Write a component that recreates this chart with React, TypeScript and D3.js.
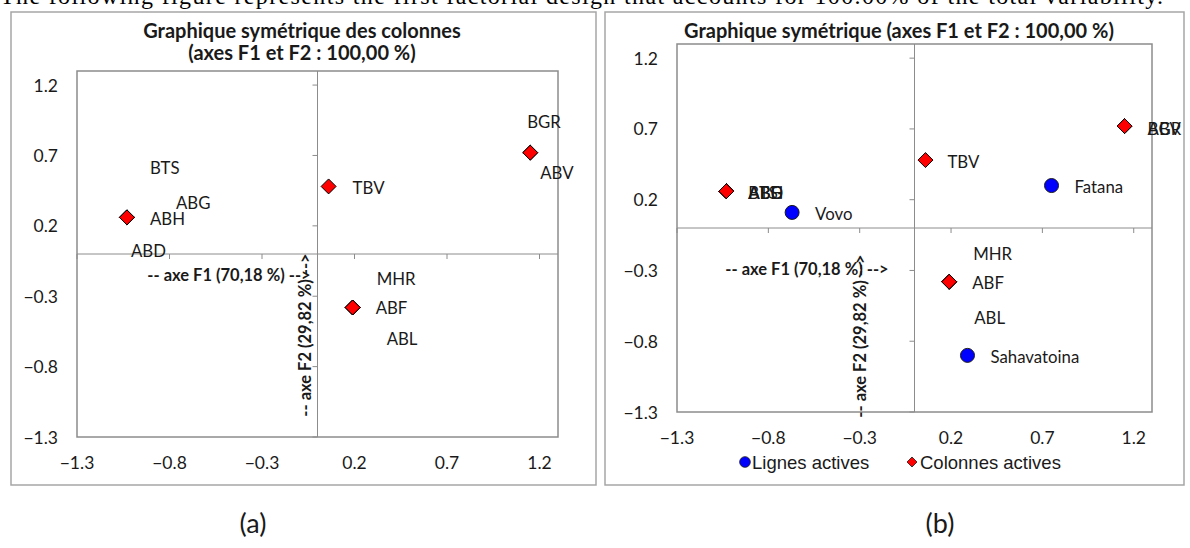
import React from "react";
import * as d3 from "d3";

// ---- data ----
const colNames = ["ABH", "BTS", "ABG", "ABD", "TBV", "BGR", "ABV", "MHR", "ABF", "ABL"];
const colF1 = [-1.03, -1.03, -1.03, -1.03, 0.06, 1.15, 1.15, 0.19, 0.19, 0.19];
const colF2 = [0.26, 0.26, 0.26, 0.26, 0.48, 0.72, 0.72, -0.38, -0.38, -0.38];
const rowNames = ["Vovo", "Fatana", "Sahavatoina"];
const rowF1 = [-0.67, 0.75, 0.29];
const rowF2 = [0.11, 0.3, -0.9];
const tickValues = [-1.3, -0.8, -0.3, 0.2, 0.7, 1.2];
const domain: [number, number] = [-1.3, 1.3];

// ---- layout (label offsets in px relative to marker) ----
const labelOffsetsA: Record<string, [number, number]> = {
  ABH: [23, 1], BTS: [23, -50], ABG: [49, -15], ABD: [4, 33],
  TBV: [24, 1], BGR: [-3, -31], ABV: [10, 20],
  MHR: [24, -29], ABF: [23, 0], ABL: [34, 31],
};
const labelOffsetsB: Record<string, [number, number]> = {
  ABH: [22, 1], BTS: [22, 1], ABG: [22, 1], ABD: [22, 1],
  TBV: [22, 1], BGR: [23, 2], ABV: [23, 2],
  MHR: [24, -28], ABF: [23, 1], ABL: [25, 36],
};
const rowOffsets: [number, number] = [23, 1];

const CAL = "Lato, 'Open Sans', sans-serif";
const GRID = "#8c8c8c";
const TXT = "#1a1a1a";

function fmt(v: number) {
  return d3.format(".1f")(v);
}

type PanelProps = {
  frame: [number, number, number, number];
  plot: [number, number, number, number];
  title: string[];
  titleX: number;
  titleY: number[];
  f1: [number, number];
  f2: [number, number];
  offsets: Record<string, [number, number]>;
  showRows: boolean;
};

function Panel(p: PanelProps) {
  const [px0, py0, px1, py1] = p.plot;
  const x = d3.scaleLinear().domain(domain).range([px0, px1]);
  const y = d3.scaleLinear().domain(domain).range([py1, py0]);
  const diamond = d3.symbol().type(d3.symbolDiamond2).size(143)() as string;
  const circle = d3.symbol().type(d3.symbolCircle).size(154)() as string;
  const x0 = x(0);
  const y0 = y(0);
  return (
    <g>
      <rect x={p.frame[0]} y={p.frame[1]} width={p.frame[2] - p.frame[0]} height={p.frame[3] - p.frame[1]}
        fill="#fff" stroke="#a6a6a6" strokeWidth={1.5} />
      {p.title.map((t, i) => (
        <text key={i} x={p.titleX} y={p.titleY[i]} textAnchor="middle" dominantBaseline="central"
          fontFamily={CAL} fontWeight="bold" fontSize={20} fill={TXT}>{t}</text>
      ))}
      <rect x={px0} y={py0} width={px1 - px0} height={py1 - py0} fill="#fff" stroke={GRID} strokeWidth={1.5} />
      {/* zero lines */}
      <line x1={x0} x2={x0} y1={py0} y2={py1} stroke={GRID} strokeWidth={1} />
      <line x1={px0} x2={px1} y1={y0} y2={y0} stroke={GRID} strokeWidth={1} />
      {tickValues.map((v) => (
        <line key={"ty" + v} x1={x0 - 5} x2={x0} y1={y(v)} y2={y(v)} stroke={GRID} strokeWidth={1} />
      ))}
      {tickValues.map((v) => (
        <line key={"tx" + v} x1={x(v)} x2={x(v)} y1={y0} y2={y0 + 5} stroke={GRID} strokeWidth={1} />
      ))}
      {tickValues.map((v) => (
        <text key={"ly" + v} x={px0 - 19} y={y(v)} textAnchor="end" dominantBaseline="central"
          fontFamily={CAL} fontSize={17.5} fill={TXT}>{fmt(v)}</text>
      ))}
      {tickValues.map((v) => (
        <text key={"lx" + v} x={x(v)} y={py1 + 25} textAnchor="middle" dominantBaseline="central"
          fontFamily={CAL} fontSize={17.5} fill={TXT}>{fmt(v)}</text>
      ))}
      {/* axis titles */}
      <text x={p.f1[0]} y={p.f1[1]} textAnchor="middle" dominantBaseline="central"
        fontFamily={CAL} fontWeight="bold" fontSize={16.5} fill={TXT}>-- axe F1 (70,18 %) --&gt;</text>
      <text transform={`translate(${p.f2[0]},${p.f2[1]}) rotate(-90)`} textAnchor="middle" dominantBaseline="central"
        fontFamily={CAL} fontWeight="bold" fontSize={16.5} fill={TXT}>-- axe F2 (29,82 %) --&gt;</text>
      {/* rows */}
      {p.showRows && rowNames.map((n, i) => (
        <g key={n}>
          <path d={circle} transform={`translate(${x(rowF1[i])},${y(rowF2[i])})`} fill="#0000ff" stroke="#1a1a1a" strokeWidth={1} />
          <text x={x(rowF1[i]) + rowOffsets[0]} y={y(rowF2[i]) + rowOffsets[1]} dominantBaseline="central"
            fontFamily={CAL} fontSize={16.8} fill={TXT}>{n}</text>
        </g>
      ))}
      {/* columns */}
      {colNames.map((n, i) => (
        <path key={"m" + n} d={diamond} transform={`translate(${x(colF1[i])},${y(colF2[i])})`}
          fill="#ff0000" stroke="#000" strokeWidth={1} />
      ))}
      {colNames.map((n, i) => (
        <text key={"t" + n} x={x(colF1[i]) + p.offsets[n][0]} y={y(colF2[i]) + p.offsets[n][1]}
          dominantBaseline="central" fontFamily={CAL} fontSize={16.8} fill={TXT}>{n}</text>
      ))}
    </g>
  );
}

export default function App() {
  const legendDiamond = d3.symbol().type(d3.symbolDiamond2).size(64)() as string;
  const legendCircle = d3.symbol().type(d3.symbolCircle).size(90)() as string;
  return (
    <svg width={1190} height={548} style={{ position: "absolute", left: 0, top: 0, background: "#fff" }}>
      <text x={0} y={4} fontFamily="'Liberation Serif', 'Times New Roman', serif" fontSize={24} fill="#000"
        textLength={1163} lengthAdjust="spacing">
        The following figure represents the first factorial design that accounts for 100.00% of the total variability.
      </text>
      <Panel frame={[11, 12, 596, 485]} plot={[77, 71, 558, 437]}
        title={["Graphique symétrique des colonnes", "(axes F1 et F2 : 100,00 %)"]}
        titleX={302} titleY={[30, 52]} f1={[229, 275]} f2={[305, 335]} offsets={labelOffsetsA} showRows={false} />
      <Panel frame={[605, 12, 1184, 485]} plot={[677, 44, 1152, 412]}
        title={["Graphique symétrique (axes F1 et F2 : 100,00 %)"]}
        titleX={899} titleY={[30]} f1={[807, 269]} f2={[860, 336]} offsets={labelOffsetsB} showRows={true} />
      {/* legend */}
      <path d={legendCircle} transform="translate(745,462)" fill="#0000ff" stroke="#1a1a1a" strokeWidth={0.8} />
      <text x={752} y={462} dominantBaseline="central" fontFamily="'Liberation Sans', Arial, sans-serif" fontSize={18.5} fill={TXT}>Lignes actives</text>
      <path d={legendDiamond} transform="translate(912,462)" fill="#ff0000" stroke="#1a1a1a" strokeWidth={0.8} />
      <text x={920} y={462} dominantBaseline="central" fontFamily="'Liberation Sans', Arial, sans-serif" fontSize={18.5} fill={TXT}>Colonnes actives</text>
      {/* panel captions */}
      <text x={253} y={522} textAnchor="middle" dominantBaseline="central" fontFamily={CAL} fontSize={27} fill={TXT}>(a)</text>
      <text x={940} y={522} textAnchor="middle" dominantBaseline="central" fontFamily={CAL} fontSize={27} fill={TXT}>(b)</text>
    </svg>
  );
}
